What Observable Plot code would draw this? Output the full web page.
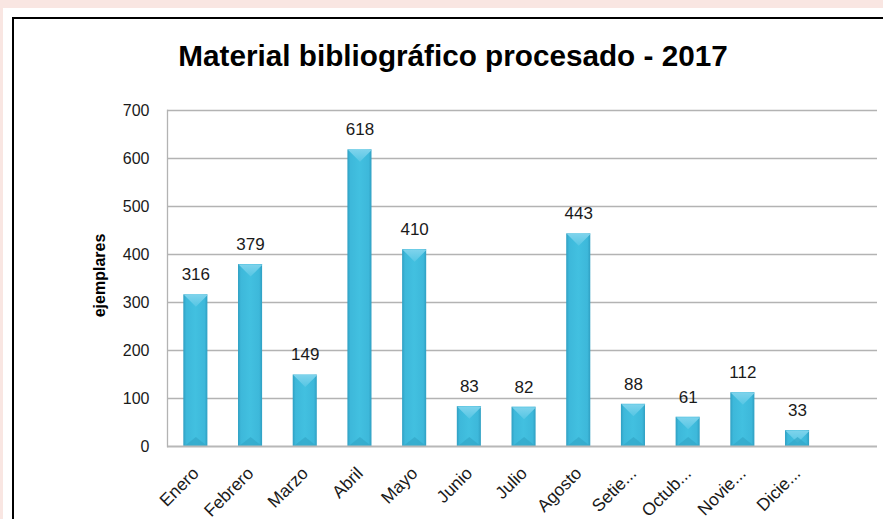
<!DOCTYPE html>
<html>
<head>
<meta charset="utf-8">
<script src="https://cdn.jsdelivr.net/npm/d3@7"></script>
<script src="https://cdn.jsdelivr.net/npm/@observablehq/plot@0.6"></script>
<style>
  html, body { margin: 0; padding: 0; }
  body { width: 883px; height: 519px; overflow: hidden; background: #f9e6e2; position: relative; font-family: "Liberation Sans", Arial, sans-serif; }
  #outer { position: absolute; left: 3px; top: 8px; width: 1000px; height: 700px; background: #fff; }
  #panel { position: absolute; left: 12px; top: 17px; width: 1000px; height: 700px; border: 2px solid #000; box-sizing: border-box; background: #fff; }
  #title { position: absolute; left: 0; width: 906px; top: 41px; text-align: center; font-size: 29.7px; line-height: 30px; font-weight: bold; color: #000; }
  #chart { position: absolute; left: 0; top: 0; }
</style>
</head>
<body>
<div id="outer"></div>
<div id="panel"></div>
<div id="chart"></div>
<div id="title">Material bibliográfico procesado - 2017</div>
<script>
const months = ["Enero", "Febrero", "Marzo", "Abril", "Mayo", "Junio", "Julio", "Agosto", "Setie...", "Octub...", "Novie...", "Dicie..."];
const values = [316, 379, 149, 618, 410, 83, 82, 443, 88, 61, 112, 33];
const yTicks = [0, 100, 200, 300, 400, 500, 600, 700];
const yLabel = "ejemplares";

const data = months.map((m, i) => ({month: m, value: values[i]}));

const topNotch = {
  draw(ctx, size) {
    const r = Math.sqrt(size / Math.PI);
    ctx.moveTo(-r, 0); ctx.lineTo(r, 0); ctx.lineTo(0, r); ctx.closePath();
  }
};
const bottomNotch = {
  draw(ctx, size) {
    const r = Math.sqrt(size / Math.PI);
    ctx.moveTo(-r, 0); ctx.lineTo(r, 0); ctx.lineTo(0, -0.8 * r); ctx.closePath();
  }
};

const font = "'Liberation Sans', Arial, sans-serif";

const plot = Plot.plot({
  width: 883,
  height: 519,
  marginLeft: 167,
  marginRight: 6,
  marginTop: 110,
  marginBottom: 73,
  style: {background: "transparent", fontFamily: font, color: "#1a1a1a", overflow: "visible"},
  x: {domain: months, range: [168, 824.4], paddingInner: 0.56, paddingOuter: 0.28, round: false, axis: null},
  y: {domain: [0, 700], axis: null},
  marks: [
    Plot.ruleY(yTicks.filter(d => d > 0), {stroke: "#b3b3b3", strokeWidth: 1.3}),
    Plot.barY(data, {x: "month", y: "value", fill: "url(#barGrad)"}),
    Plot.dot(data, {x: "month", y: "value", r: 12, symbol: topNotch, fill: "url(#notchGrad)", stroke: "none"}),
    Plot.dot(data, {x: "month", y: 0, r: 12, symbol: bottomNotch, fill: "#33a6c8", fillOpacity: 0.7, stroke: "none"}),
    Plot.ruleY([0], {stroke: "#b8b8b8", strokeWidth: 2}),
    Plot.frame({anchor: "left", stroke: "#b3b3b3", strokeWidth: 1.3}),
    Plot.axisY({ticks: yTicks, tickSize: 0, tickPadding: 18, fontSize: 16, label: null, fill: "#1a1a1a"}),
    Plot.text(data, {x: "month", y: "value", text: d => String(d.value), dy: -20, fontSize: 17, fill: "#1a1a1a", lineAnchor: "middle"}),
    Plot.text(data, {x: "month", y: 0, text: "month", rotate: -45, textAnchor: "end", lineAnchor: "middle", dx: 0, dy: 24, fontSize: 17.5, fill: "#1a1a1a"}),
    Plot.text([yLabel], {frameAnchor: "left", textAnchor: "middle", rotate: -90, dx: -68, dy: -3, fontSize: 16, fontWeight: "bold", fill: "#000"})
  ]
});

const ns = "http://www.w3.org/2000/svg";
const defs = document.createElementNS(ns, "defs");
defs.innerHTML = `
  <linearGradient id="barGrad" x1="0" x2="1" y1="0" y2="0">
    <stop offset="0" stop-color="#2f9fc2"/>
    <stop offset="0.12" stop-color="#3db8da"/>
    <stop offset="0.5" stop-color="#42c0e0"/>
    <stop offset="0.88" stop-color="#3db8da"/>
    <stop offset="1" stop-color="#2f9fc2"/>
  </linearGradient>
  <linearGradient id="notchGrad" x1="0" x2="0" y1="0" y2="1">
    <stop offset="0" stop-color="#7ed3ec"/>
    <stop offset="1" stop-color="#55c6e4"/>
  </linearGradient>`;
plot.insertBefore(defs, plot.firstChild);
document.getElementById("chart").appendChild(plot);
</script>
</body>
</html>
